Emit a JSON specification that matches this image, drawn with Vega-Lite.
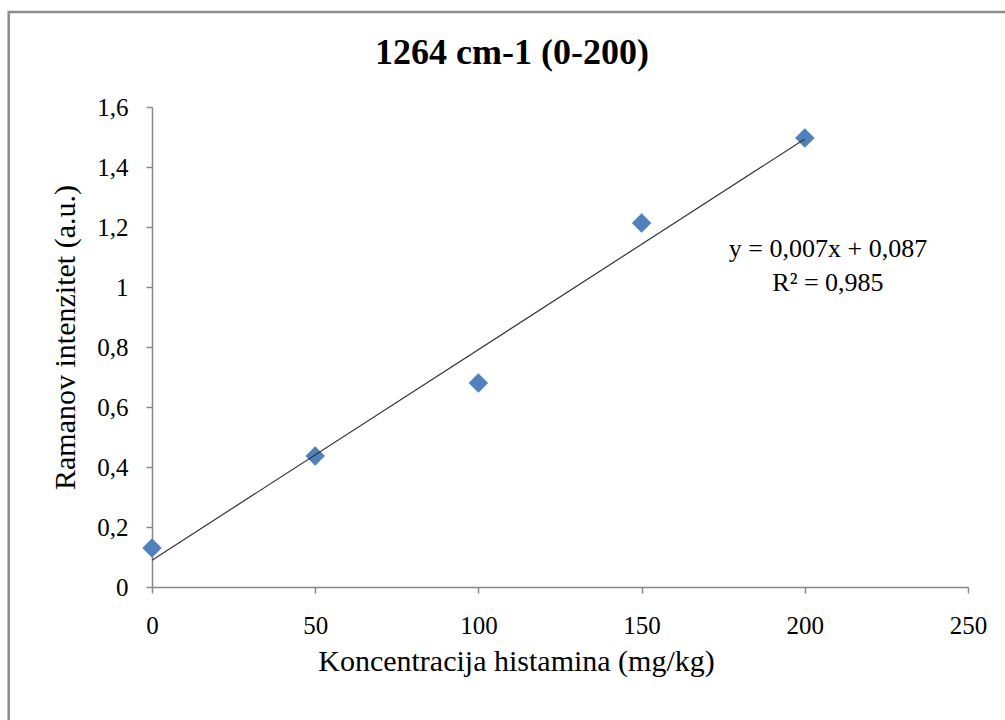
{
  "$schema": "https://vega.github.io/schema/vega-lite/v6.json",
  "width": 816,
  "height": 480,
  "autosize": {"type": "none"},
  "padding": {"left": 152, "top": 107, "right": 37, "bottom": 133},
  "background": "white",
  "title": {
    "text": "1264 cm-1 (0-200)",
    "font": "Liberation Serif",
    "fontSize": 36,
    "fontWeight": "bold",
    "color": "black",
    "anchor": "middle",
    "frame": "group",
    "baseline": "alphabetic",
    "dx": -48,
    "offset": -89
  },
  "config": {
    "view": {"stroke": null},
    "axis": {
      "labelFont": "Liberation Serif",
      "titleFont": "Liberation Serif",
      "labelColor": "black",
      "titleColor": "black",
      "titleFontWeight": "normal",
      "domainColor": "#888888",
      "tickColor": "#888888",
      "domainWidth": 1.5,
      "tickWidth": 1.5,
      "labelFlush": false,
      "grid": false
    }
  },
  "data": {
    "values": [
      {"x": 0, "y": 0.13},
      {"x": 50, "y": 0.437},
      {"x": 100, "y": 0.68},
      {"x": 150, "y": 1.213},
      {"x": 200, "y": 1.497}
    ]
  },
  "layer": [
    {
      "data": {"values": [{"item": "frame"}]},
      "mark": {"type": "rect", "fill": null, "stroke": "#8c8c8c", "strokeWidth": 2.5, "clip": false},
      "encoding": {
        "x": {"datum": -43.9, "type": "quantitative"},
        "x2": {"datum": 280},
        "y": {"datum": 1.917, "type": "quantitative"},
        "y2": {"datum": -0.7}
      }
    },
    {
      "mark": {"type": "point", "shape": "diamond", "filled": true, "color": "#4F81BD", "size": 380, "opacity": 1},
      "encoding": {
        "x": {
          "field": "x", "type": "quantitative",
          "scale": {"domain": [0, 250], "nice": false, "zero": false},
          "axis": {
            "title": "Koncentracija histamina (mg/kg)",
            "values": [0, 50, 100, 150, 200, 250],
            "labelFontSize": 25,
            "titleFontSize": 30,
            "tickSize": 6,
            "labelPadding": 20,
            "titleX": 364,
            "titleY": 59
          }
        },
        "y": {
          "field": "y", "type": "quantitative",
          "scale": {"domain": [0, 1.6], "nice": false, "zero": false},
          "axis": {
            "title": "Ramanov intenzitet  (a.u.)",
            "values": [0, 0.2, 0.4, 0.6, 0.8, 1, 1.2, 1.4, 1.6],
            "labelExpr": "replace(format(datum.value, '~g'), '.', ',')",
            "labelFontSize": 25,
            "titleFontSize": 30,
            "tickSize": 6,
            "labelPadding": 18,
            "titleX": -87,
            "titleY": 230,
            "titleBaseline": "middle"
          }
        }
      }
    },
    {
      "transform": [{"regression": "y", "on": "x", "extent": [0, 200]}],
      "mark": {"type": "line", "color": "#333333", "strokeWidth": 1.2},
      "encoding": {
        "x": {"field": "x", "type": "quantitative"},
        "y": {"field": "y", "type": "quantitative"}
      }
    },
    {
      "data": {"values": [{"item": "equation"}]},
      "mark": {"type": "text", "font": "Liberation Serif", "fontSize": 26, "fontWeight": "normal", "align": "center", "baseline": "middle", "lineHeight": 34, "color": "black"},
      "encoding": {
        "x": {"datum": 207.1, "type": "quantitative"},
        "y": {"datum": 1.128, "type": "quantitative"},
        "text": {"value": ["y = 0,007x + 0,087", "R² = 0,985"]}
      }
    }
  ]
}
